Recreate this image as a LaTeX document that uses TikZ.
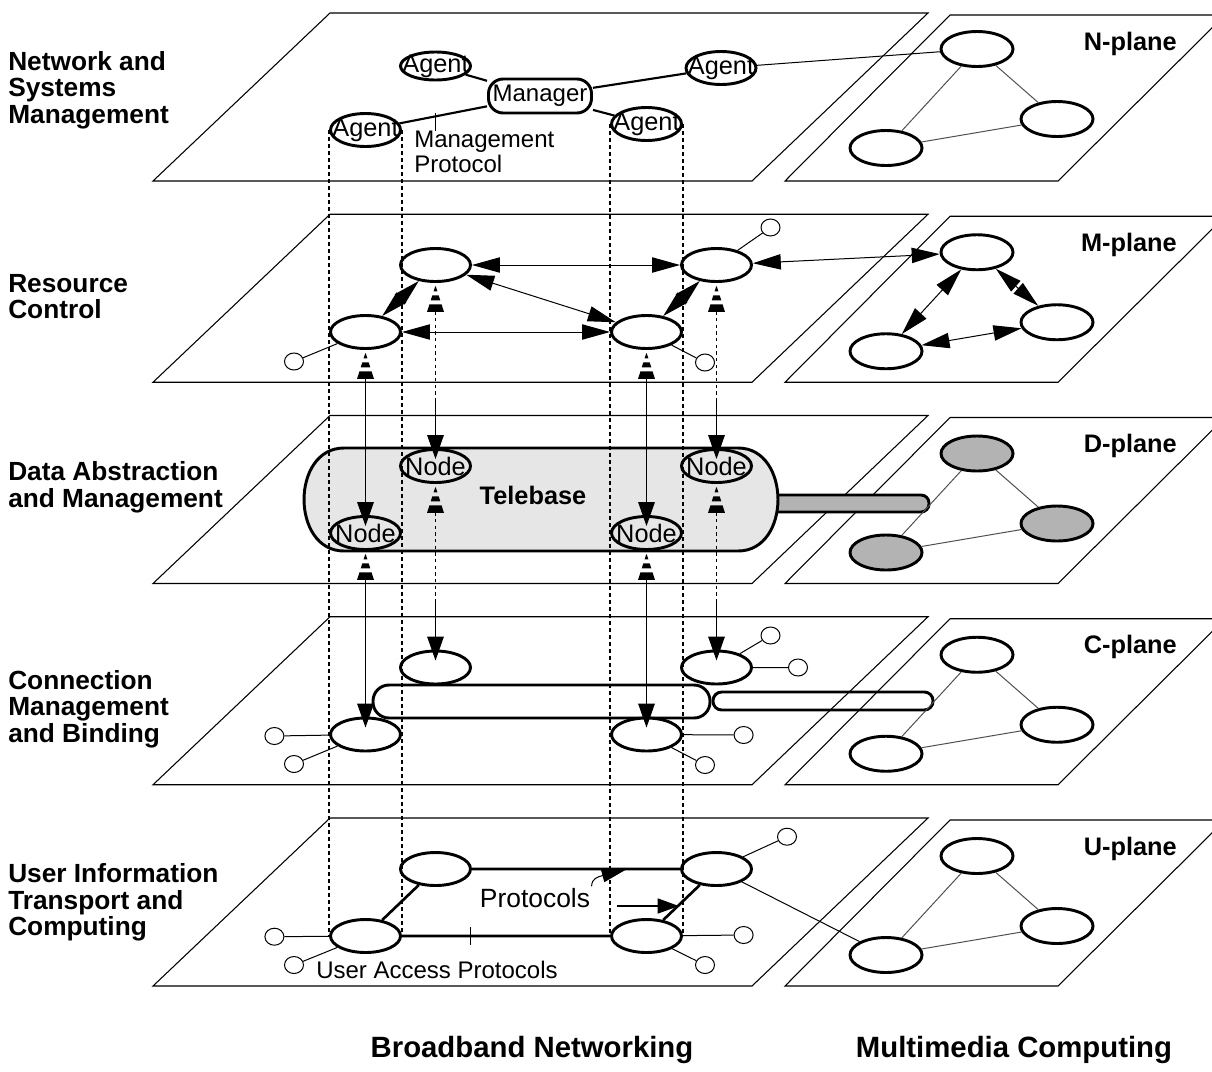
\documentclass[tikz,border=0pt]{standalone}
\usepackage{fontspec}
\setmainfont{Liberation Sans}
\usetikzlibrary{arrows.meta,shapes.geometric,calc}

\def\upx{0.75pt}
\definecolor{tbgray}{HTML}{E6E6E6}
\definecolor{midgray}{HTML}{B3B3B3}
\definecolor{lnkgray}{HTML}{505050}

% striped head under a node, then a connector down into the node of the next plane
\newcommand{\solidcol}[2]{%
  \pic at ($(#1.south)+(0,2.5)$) {stripedhead};
  \draw[vsolid] ($(#1.south)+(0,28.5)$) -- ($(#2.center)+(0,-7)$);}
\newcommand{\dashcol}[2]{%
  \pic at ($(#1.south)+(0,2.5)$) {stripedhead};
  \draw[vdash] ($(#1.south)+(0,28.5)$) -- ($(#2.center)+(0,-66)$);
  \draw[vsolid] ($(#2.center)+(0,-66)$) -- ($(#2.center)+(0,-7)$);}

\begin{document}
\begin{tikzpicture}[x=0.75pt,y=-0.75pt,
  plane/.style={draw=black,line width=0.8pt},
  basenode/.style={ellipse,draw,line width=2.2pt,inner sep=0pt,fill=white},
  nd/.style={basenode,minimum width=70*\upx,minimum height=33*\upx},
  rnd/.style={basenode,minimum width=72*\upx,minimum height=35*\upx},
  port/.style={ellipse,draw,fill=white,line width=0.75pt,inner sep=0pt,minimum width=19*\upx,minimum height=17*\upx},
  mgrbox/.style={rectangle,rounded corners=11pt,draw,line width=2.2pt,fill=white,minimum width=103*\upx,minimum height=34*\upx,inner sep=0pt,font=\fontsize{18}{20}\selectfont},
  intxt/.style={inner sep=0pt,font=\fontsize{19}{20}\selectfont},
  txt/.style={inner sep=0pt,font=\fontsize{18}{18.75}\selectfont},
  lbl/.style={inner sep=0pt,align=left,anchor=west,font=\fontsize{19.7}{19.9}\selectfont\bfseries},
  plbl/.style={inner sep=0pt,anchor=base east,font=\fontsize{19}{22}\selectfont\bfseries},
  bottomlbl/.style={inner sep=0pt,font=\fontsize{22}{26}\selectfont\bfseries},
  mline/.style={line width=1.6pt},
  uline/.style={line width=2pt},
  thinl/.style={line width=0.75pt},
  triline/.style={line width=0.75pt,draw=lnkgray},
  guide/.style={line width=1.5pt,dash pattern=on 3pt off 2.25pt},
  vsolid/.style={line width=0.75pt,-{Triangle[length=18pt,width=12.5pt]}},
  vdash/.style={line width=1.1pt,dash pattern=on 2.5pt off 2.5pt},
  biarrow/.style={line width=0.75pt,{Triangle[length=21pt,width=11.5pt]}-{Triangle[length=21pt,width=11.5pt]}},
  bowlink/.style={line width=0.75pt,{Triangle[length=20pt,width=10.5pt]}-{Triangle[length=20pt,width=10.5pt]}},
  stripedhead/.pic={
    \begin{scope}
      \clip (-10,1) rectangle (10,6) (-10,10) rectangle (10,15) (-10,19) rectangle (10,26.5);
      \fill (0,0) -- (8.5,26.5) -- (-8.5,26.5) -- cycle;
    \end{scope}
  }
]
\useasboundingbox (0,0) rectangle (1212,1071);
\clip (0,0) rectangle (1212,1071);

% ---------- planes ----------
\foreach \T in {13,214.25,415.5,616.75,818}{
  \draw[plane] (330,\T) -- (928,\T) -- (752,\T+168) -- (153,\T+168) -- cycle;
  \draw[plane] (950,\T+2) -- (1225,\T+2) -- (1058,\T+168) -- (785,\T+168) -- cycle;
}

% ---------- row labels ----------
\node[lbl] (lN) at (8,89.8) {Network and\\Systems\\Management};
\node[lbl] (lM) at (8,296.5) {Resource\\Control};
\node[lbl] (lD) at (8,487) {Data Abstraction\\and Management};
\node[lbl] (lC) at (8,709) {Connection\\Management\\and Binding};
\node[lbl] (lU) at (8,902.5) {User Information\\Transport and\\Computing};

\node[plbl] (pN) at (1177,50) {N-plane};
\node[plbl] (pM) at (1177,251.25) {M-plane};
\node[plbl] (pD) at (1177,452.5) {D-plane};
\node[plbl] (pC) at (1177,653.75) {C-plane};
\node[plbl] (pU) at (1177,855) {U-plane};

\node[bottomlbl] (bbn) at (532,1050) {Broadband Networking};
\node[bottomlbl] (mmc) at (1014,1050) {Multimedia Computing};

% ---------- D-plane: gray bar and Telebase ----------
\draw[line width=2.2pt,fill=midgray,rounded corners=6pt] (768,495) rectangle (929,512);
\draw[line width=2.2pt,fill=tbgray] (344,448) -- (738,448)
  .. controls (791.3,448) and (791.3,551) .. (738,551) -- (344,551)
  .. controls (290.7,551) and (290.7,448) .. (344,448) -- cycle;
\node[inner sep=0pt,anchor=base,font=\fontsize{19}{22}\selectfont\bfseries] (tb) at (533,504) {Telebase};

% ---------- C-plane: binding capsules ----------
\draw[line width=2.2pt,rounded corners=12pt] (373,685) rectangle (710,718);
\draw[line width=2.2pt,rounded corners=6.5pt] (713,692) rectangle (933,710);

% ---------- N-plane ----------
\node[nd,minimum height=28*\upx,label={[intxt]center:Agent}] (agA) at (435.5,66) {};
\node[nd,label={[intxt]center:Agent}] (agB) at (365.5,130) {};
\node[nd,label={[intxt]center:Agent}] (agC) at (646.5,124) {};
\node[nd,label={[intxt]center:Agent}] (agD) at (721,68) {};
\node[mgrbox] (mgr) at (540,96) {Manager};
\draw[mline] (agA) -- (mgr) (mgr) -- (agD) (mgr) -- (agC) (mgr) -- (agB);

\node[rnd] (nTop) at (977,49) {};
\node[rnd] (nRgt) at (1057,119) {};
\node[rnd] (nLft) at (886,148) {};
\draw[triline] (nTop) -- (nLft) (nTop) -- (nRgt) (nLft) -- (nRgt);
\draw[thinl] (agD) -- (nTop);

\node[txt,align=left,anchor=north west] (mp) at (414,131) {Management\\Protocol};
\coordinate (mpt) at (435,113);
\draw[thinl] ($(mp.north west)+(21,0)$) -- (mpt);

% ---------- M-plane ----------
\node[nd] (mUL) at (435.5,265) {};
\node[nd] (mLL) at (365.5,332) {};
\node[nd] (mLR) at (646.5,332) {};
\node[nd] (mUR) at (716.5,265) {};
\node[rnd] (mTop) at (977,252.25) {};
\node[rnd] (mRgt) at (1057,322.25) {};
\node[rnd] (mLft) at (886,351.25) {};

\draw[biarrow] (mUL) -- (mUR);
\draw[biarrow] (mLL) -- (mLR);
\draw[biarrow] (mUL) -- (mLR);
\draw[bowlink] (mUL) -- (mLL);
\draw[bowlink] (mUR) -- (mLR);
\draw[biarrow] (mUR) -- (mTop);
\draw[biarrow] (mTop) -- (mLft);
\draw[bowlink] (mTop) -- (mRgt);
\draw[biarrow] (mLft) -- (mRgt);

\node[port] (pm1) at (770.5,227.5) {};
\node[port] (pm2) at (294,361.5) {};
\node[port] (pm3) at (705,362.5) {};
\draw[thinl] (pm1) -- (mUR) (pm2) -- (mLL) (pm3) -- (mLR);

% ---------- D-plane nodes ----------
\node[nd,fill=tbgray,label={[intxt]center:Node}] (dUL) at (435.5,466) {};
\node[nd,fill=tbgray,label={[intxt]center:Node}] (dLL) at (365.5,533) {};
\node[nd,fill=tbgray,label={[intxt]center:Node}] (dLR) at (646.5,533) {};
\node[nd,fill=tbgray,label={[intxt]center:Node}] (dUR) at (716.5,466) {};
\node[rnd,fill=midgray] (dTop) at (977,453.5) {};
\node[rnd,fill=midgray] (dRgt) at (1057,523.5) {};
\node[rnd,fill=midgray] (dLft) at (886,552.5) {};
\draw[triline] (dTop) -- (dLft) (dTop) -- (dRgt) (dLft) -- (dRgt);

% ---------- C-plane nodes ----------
\node[nd] (cUL) at (435.5,667.5) {};
\node[nd] (cLL) at (365.5,734.5) {};
\node[nd] (cLR) at (646.5,734.5) {};
\node[nd] (cUR) at (716.5,667.5) {};
\node[rnd] (cTop) at (977,654.75) {};
\node[rnd] (cRgt) at (1057,724.75) {};
\node[rnd] (cLft) at (886,753.75) {};
\draw[triline] (cTop) -- (cLft) (cTop) -- (cRgt) (cLft) -- (cRgt);

\node[port] (pc1) at (770.5,635.5) {};
\node[port] (pc2) at (798,667.5) {};
\node[port] (pc3) at (274.4,736) {};
\node[port] (pc4) at (294,764) {};
\node[port] (pc5) at (743.6,735) {};
\node[port] (pc6) at (705,765) {};
\draw[thinl] (pc1) -- (cUR) (pc2) -- (cUR) (pc3) -- (cLL) (pc4) -- (cLL) (pc5) -- (cLR) (pc6) -- (cLR);

% ---------- U-plane ----------
\node[nd] (uUL) at (435.5,869) {};
\node[nd] (uLL) at (365.5,936) {};
\node[nd] (uLR) at (646.5,936) {};
\node[nd] (uUR) at (716.5,869) {};
\node[rnd] (uTop) at (977,856) {};
\node[rnd] (uRgt) at (1057,926) {};
\node[rnd] (uLft) at (886,955) {};
\draw[triline] (uTop) -- (uLft) (uTop) -- (uRgt) (uLft) -- (uRgt);

\draw[uline] (uUL) -- (uUR) (uLL) -- (uLR) (uUL) -- (uLL) (uUR) -- (uLR);
\draw[thinl] (uUR) -- (uLft);

\node[port] (pu1) at (787,836.7) {};
\node[port] (pu2) at (274.4,936.7) {};
\node[port] (pu3) at (294,965) {};
\node[port] (pu4) at (743.6,935) {};
\node[port] (pu5) at (705,965) {};
\draw[thinl] (pu1) -- (uUR) (pu2) -- (uLL) (pu3) -- (uLL) (pu4) -- (uLR) (pu5) -- (uLR);

\node[inner sep=1pt,anchor=base,font=\fontsize{19.8}{22}\selectfont] (proto) at (535,907) {Protocols};
\coordinate (ptip) at (627,869);
\draw[line width=0.75pt,-{Triangle[length=19pt,width=10pt]}] (proto.north east)
  .. controls +(0,-8) and (598,876.8) .. (ptip);
\coordinate (pa0) at (617,906);
\coordinate (pa1) at (679,906);
\draw[line width=2pt,-{Triangle[length=16pt,width=11pt]}] (pa0) -- (pa1);

\node[txt,anchor=base] (uap) at (437,978) {User Access Protocols};
\coordinate (uapt) at (470,927);
\draw[thinl] (uapt) -- ++(0,18);

% ---------- vertical alignment guides ----------
\draw[guide] (agB.west) -- (uLL.west);
\draw[guide] (agB.east) -- (uLL.east);
\draw[guide] (agC.west) -- (uLR.west);
\draw[guide] (agC.east) -- (uLR.east);

% ---------- inter-plane connectors ----------
\solidcol{mLL}{dLL}
\solidcol{mLR}{dLR}
\dashcol{mUL}{dUL}
\dashcol{mUR}{dUR}
\solidcol{dLL}{cLL}
\solidcol{dLR}{cLR}
\dashcol{dUL}{cUL}
\dashcol{dUR}{cUR}

\end{tikzpicture}
\end{document}
